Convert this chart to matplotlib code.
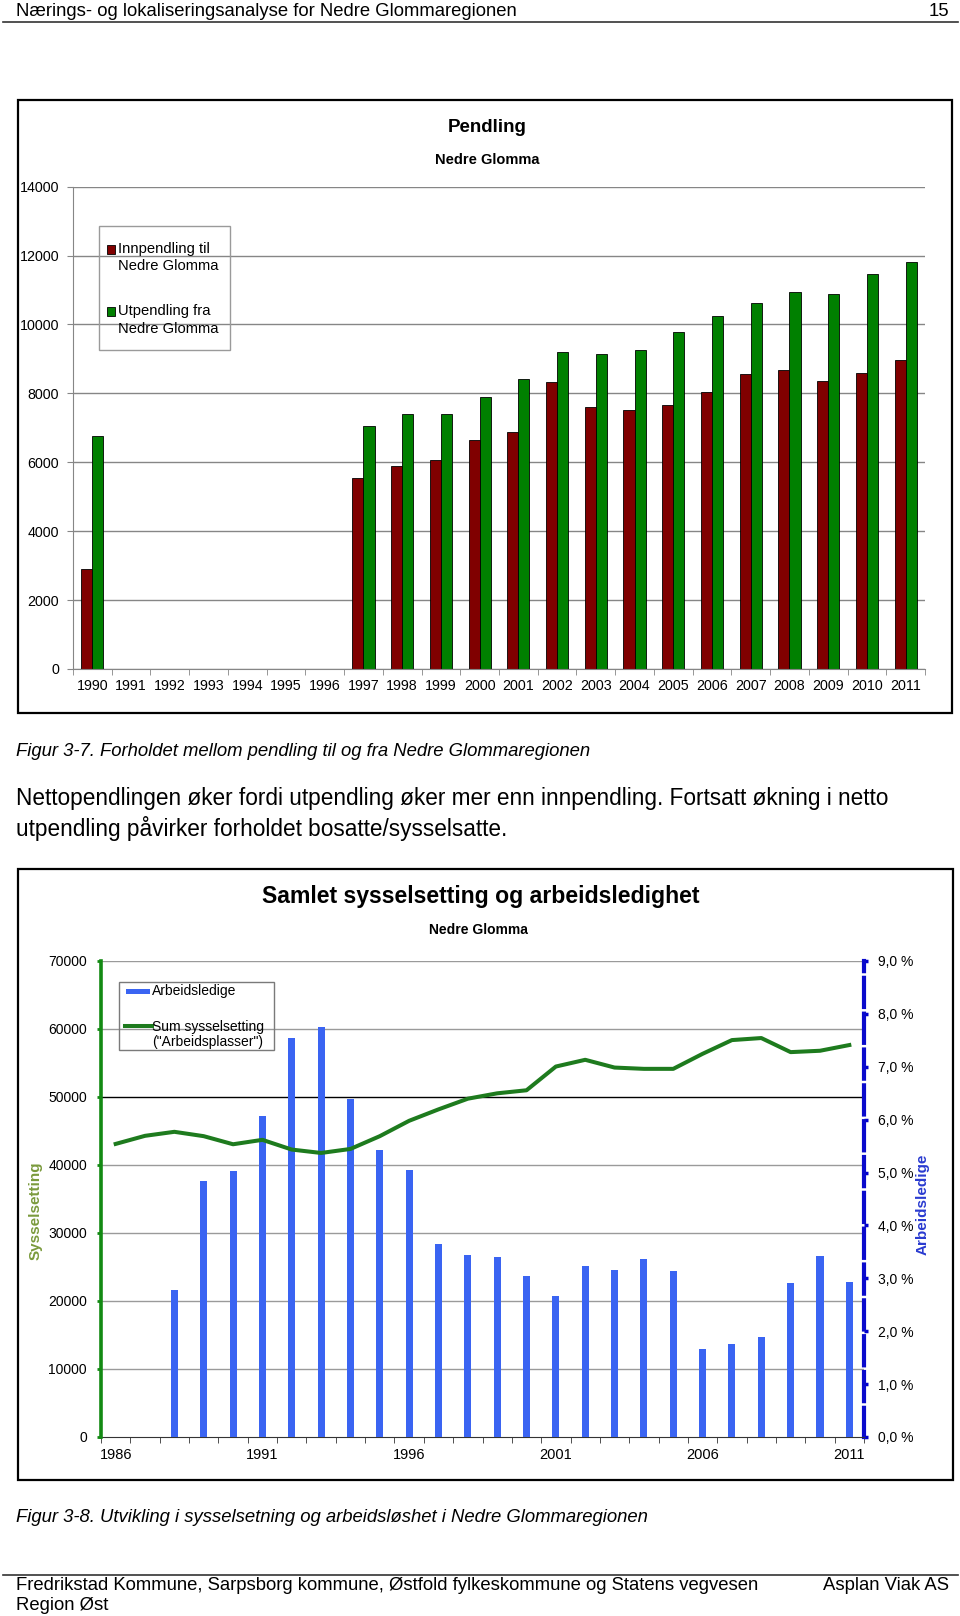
import numpy as np
import matplotlib.pyplot as plt
from matplotlib.patches import Rectangle
from matplotlib.lines import Line2D

plt.rcParams['font.family'] = ['Liberation Sans', 'DejaVu Sans']

nan = np.nan

# --- Figur 3-7: pendling ---
years_p = list(range(1990, 2012))
innpendling = [2910, nan, nan, nan, nan, nan, nan, 5530, 5900, 6070, 6650, 6890,
               8330, 7610, 7530, 7650, 8040, 8560, 8690, 8370, 8600, 8980]
utpendling = [6770, nan, nan, nan, nan, nan, nan, 7060, 7390, 7400, 7890, 8430,
              9190, 9140, 9270, 9790, 10240, 10630, 10940, 10890, 11450, 11820]
yticks_p = list(range(0, 14001, 2000))

# --- Figur 3-8: sysselsetting og arbeidsledighet ---
years_s = list(range(1986, 2012))
sysselsetting = [43100, 44290, 44880, 44240, 43050, 43700, 42270, 41770, 42360,
                 44240, 46500, 48180, 49750, 50540, 50990, 54480, 55470, 54330,
                 54140, 54140, 56350, 58370, 58670, 56600, 56800, 57640]
arbeidsledige = [nan, nan, 2.78, 4.84, 5.03, 6.07, 7.55, 7.76, 6.40, 5.43, 5.04,
                 3.64, 3.45, 3.41, 3.04, 2.66, 3.24, 3.15, 3.36, 3.13, 1.66, 1.75,
                 1.90, 2.92, 3.43, 2.94]
yticks_s = list(range(0, 70001, 10000))
yticks_pct = list(range(0, 10))
xlabels_s = [1986, 1991, 1996, 2001, 2006, 2011]

W, H = 960, 1616
fig = plt.figure(figsize=(W / 100, H / 100), dpi=100)


def fx(x):
    return x / W


def fy(y):
    return 1 - y / H


def box(x0, y0, x1, y1, lw=1.6, ec='black'):
    fig.add_artist(Rectangle((fx(x0), fy(y1)), (x1 - x0) / W, (y1 - y0) / H,
                             transform=fig.transFigure, fill=False, lw=lw, ec=ec))


def hline(x0, x1, y, lw=1.0, color='#333333'):
    fig.add_artist(Line2D([fx(x0), fx(x1)], [fy(y), fy(y)],
                          transform=fig.transFigure, lw=lw, color=color))


# page header / footer
fs_page = 13.3
fig.text(fx(16), fy(11), 'Nærings- og lokaliseringsanalyse for Nedre Glommaregionen',
         fontsize=fs_page, va='center')
fig.text(fx(949), fy(11), '15', fontsize=fs_page, va='center', ha='right')
hline(3, 958, 21.5, lw=1.2)

fig.text(fx(16), fy(751), 'Figur 3-7. Forholdet mellom pendling til og fra Nedre Glommaregionen',
         fontsize=fs_page, style='italic', va='center')
fig.text(fx(16), fy(798),
         'Nettopendlingen øker fordi utpendling øker mer enn innpendling. Fortsatt økning i netto',
         fontsize=16.3, va='center')
fig.text(fx(16), fy(829), 'utpendling påvirker forholdet bosatte/sysselsatte.',
         fontsize=16.3, va='center')
fig.text(fx(16), fy(1518), 'Figur 3-8. Utvikling i sysselsetning og arbeidsløshet i Nedre Glommaregionen',
         fontsize=fs_page, style='italic', va='center')
hline(3, 958, 1575, lw=1.2)
fig.text(fx(16), fy(1586), 'Fredrikstad Kommune, Sarpsborg kommune, Østfold fylkeskommune og Statens vegvesen',
         fontsize=fs_page, va='center')
fig.text(fx(16), fy(1606), 'Region Øst', fontsize=fs_page, va='center')
fig.text(fx(949), fy(1586), 'Asplan Viak AS', fontsize=fs_page, va='center', ha='right')

# ================= chart 1 =================
box(17.5, 100, 952, 712.5)
fig.text(fx(487), fy(128), 'Pendling', fontsize=13.5, weight='bold', ha='center', va='center')
fig.text(fx(487), fy(160), 'Nedre Glomma', fontsize=10.5, weight='bold', ha='center', va='center')

ax1 = fig.add_axes([fx(73), fy(669), (925 - 73) / W, (669 - 186.6) / H])
x = np.arange(len(years_p))
bw = 0.286
ax1.bar(x - bw / 2, innpendling, bw, color='#800000', edgecolor='black', lw=0.6,
        label='Innpendling til\nNedre Glomma')
ax1.bar(x + bw / 2, utpendling, bw, color='#008000', edgecolor='black', lw=0.6,
        label='Utpendling fra\nNedre Glomma')
ax1.set_xlim(-0.5, len(years_p) - 0.5)
ax1.set_ylim(0, 14000)
ax1.set_yticks(yticks_p)
ax1.set_yticklabels([str(v) for v in yticks_p], fontsize=10.3)
ax1.set_xticks(x)
ax1.set_xticklabels([str(y) for y in years_p], fontsize=10.3)
ax1.set_xticks(np.arange(-0.5, len(years_p), 1), minor=True)
ax1.tick_params(axis='x', which='major', length=0, pad=7)
ax1.tick_params(axis='x', which='minor', length=4, color='#868686', direction='out')
ax1.tick_params(axis='y', length=4, color='#868686', pad=6)
ax1.grid(axis='y', color='#868686', lw=1.0)
ax1.set_axisbelow(True)
for s in ['top', 'right']:
    ax1.spines[s].set_visible(False)
for s in ['left', 'bottom']:
    ax1.spines[s].set_color('#868686')

# legend chart 1
box(99, 226, 230, 350, lw=1.0, ec='#9a9a9a')
for (y0, col, txt) in [(249, '#800000', 'Innpendling til\nNedre Glomma'),
                       (311.5, '#008000', 'Utpendling fra\nNedre Glomma')]:
    fig.add_artist(Rectangle((fx(107), fy(y0 + 4.5)), 7.5 / W, 9 / H, transform=fig.transFigure,
                             fc=col, ec='black', lw=0.6))
    fig.text(fx(118.5), fy(y0 - 7), txt, fontsize=10.6, va='top', linespacing=1.3)

# ================= chart 2 =================
box(17.5, 869, 953, 1480)
fig.text(fx(481), fy(897), 'Samlet sysselsetting og arbeidsledighet', fontsize=16.6,
         weight='bold', ha='center', va='center')
fig.text(fx(478), fy(930), 'Nedre Glomma', fontsize=10, weight='bold', ha='center', va='center')

rect2 = [fx(101), fy(1437), (864 - 101) / W, (1437 - 961) / H]
ax2 = fig.add_axes(rect2)          # bars, right axis (%)
ax3 = ax2.twinx()                  # line, left axis
ax2.yaxis.tick_right()
ax3.yaxis.tick_left()
ax3.set_zorder(ax2.get_zorder() + 1)
ax3.patch.set_visible(False)

ax2.bar(years_s, arbeidsledige, 0.24, color='#3A64F2', zorder=3)
ax2.set_xlim(years_s[0] - 0.5, years_s[-1] + 0.5)
ax2.set_ylim(0, 9)
ax2.set_yticks(yticks_pct)
ax2.set_yticklabels([f'{v:.1f} %'.replace('.', ',') for v in yticks_pct], fontsize=10)
ax2.set_xticks(xlabels_s)
ax2.set_xticklabels([str(v) for v in xlabels_s], fontsize=10.5)
ax2.set_xticks(np.arange(years_s[0] - 0.5, years_s[-1] + 1, 1), minor=True)
ax2.tick_params(axis='x', which='major', length=0, pad=8)
ax2.tick_params(axis='x', which='minor', length=4, color='#333333')
ax2.tick_params(axis='y', length=3, width=2.5, color='#0000CC', pad=7,
                left=False, right=True, labelleft=False, labelright=True)

# gridlines from left axis, drawn behind bars
for v in yticks_s[1:]:
    ax2.plot([0, 1], [v, v], transform=ax3.get_yaxis_transform(),
             color='black' if v == 50000 else '#9a9a9a', lw=1.0, zorder=1)

ax3.plot(years_s, sysselsetting, color='#1E7B1E', lw=2.9, solid_joinstyle='round')
ax3.set_ylim(0, 70000)
ax3.set_yticks(yticks_s)
ax3.set_yticklabels([str(v) for v in yticks_s], fontsize=10)
ax3.tick_params(axis='y', length=3, width=2, color='#138A13', pad=7,
                left=True, right=False, labelleft=True, labelright=False)
ax3.set_xlim(ax2.get_xlim())

for a in (ax2, ax3):
    a.spines['top'].set_visible(False)
ax3.spines['right'].set_visible(False)
ax2.spines['left'].set_visible(False)
ax3.spines['left'].set_color('#138A13')
ax3.spines['left'].set_linewidth(2.6)
ax2.spines['right'].set_color('#0A0ACC')
ax2.spines['right'].set_linewidth(3)
ax2.spines['right'].set_linestyle((0, (7, 1.6)))
ax2.spines['bottom'].set_color('#333333')
ax3.spines['bottom'].set_visible(False)

fig.text(fx(36), fy(1211), 'Sysselsetting', rotation=90, color='#7A9A3C', fontsize=11,
         weight='bold', ha='center', va='center')
fig.text(fx(923), fy(1204), 'Arbeidsledige', rotation=90, color='#2A3BD0', fontsize=11,
         weight='bold', ha='center', va='center')

# legend chart 2
box(118.5, 982, 274, 1050, lw=1.0, ec='#7a7a7a')
fig.add_artist(Rectangle((fx(126), fy(994)), 24 / W, 5.5 / H, transform=fig.transFigure,
                         fc='#3A64F2', ec='none'))
fig.text(fx(152), fy(991.5), 'Arbeidsledige', fontsize=10, va='center')
hline(125, 152, 1026, lw=2.9, color='#1E7B1E')
fig.text(fx(152), fy(1019.5), 'Sum sysselsetting\n("Arbeidsplasser")', fontsize=10,
         va='top', linespacing=1.1)

fig.savefig('out.png', dpi=100)
